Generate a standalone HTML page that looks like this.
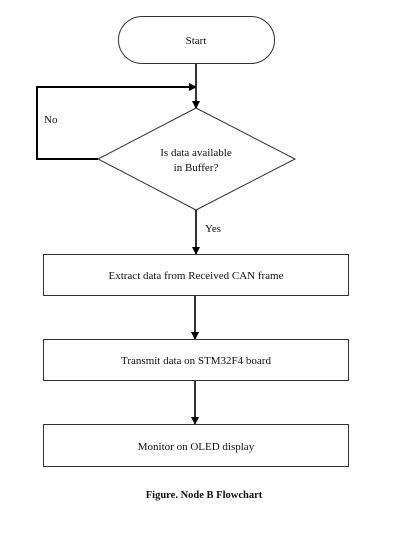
<!DOCTYPE html>
<html><head><style>
html,body{margin:0;padding:0;background:#fff;}
svg{display:block;}
text{font-family:"Liberation Serif",serif;font-size:11px;fill:#111;}
</style></head><body>
<svg width="413" height="545" viewBox="0 0 413 545">
<defs>
<marker id="a" markerWidth="8" markerHeight="8" refX="7" refY="4" orient="auto" markerUnits="userSpaceOnUse">
<path d="M0,0 L8,4 L0,8 z" fill="#000"/></marker>
</defs>
<rect x="118.5" y="16.5" width="156" height="47" rx="23.5" fill="#fff" stroke="#333" stroke-width="1"/>
<text x="196" y="44" text-anchor="middle">Start</text>
<line x1="196" y1="64" x2="196" y2="108" stroke="#000" stroke-width="1.6" marker-end="url(#a)"/>
<polyline points="98,159 37,159 37,87 196,87" fill="none" stroke="#000" stroke-width="2" marker-end="url(#a)"/>
<polygon points="196,108 295,159 196,210 98,159" fill="#fff" stroke="#333" stroke-width="1"/>
<text x="196" y="156" text-anchor="middle">Is data available</text>
<text x="196" y="171" text-anchor="middle">in Buffer?</text>
<text x="44" y="123">No</text>
<text x="205" y="232">Yes</text>
<line x1="196" y1="210" x2="196" y2="254" stroke="#000" stroke-width="1.6" marker-end="url(#a)"/>
<rect x="43.5" y="254.5" width="305" height="41" fill="#fff" stroke="#333"/>
<text x="196" y="279" text-anchor="middle">Extract data from Received CAN frame</text>
<line x1="195" y1="296" x2="195" y2="339" stroke="#000" stroke-width="1.6" marker-end="url(#a)"/>
<rect x="43.5" y="339.5" width="305" height="41" fill="#fff" stroke="#333"/>
<text x="196" y="364" text-anchor="middle">Transmit data on  STM32F4 board</text>
<line x1="195" y1="381" x2="195" y2="424" stroke="#000" stroke-width="1.6" marker-end="url(#a)"/>
<rect x="43.5" y="424.5" width="305" height="42" fill="#fff" stroke="#333"/>
<text x="196" y="450" text-anchor="middle">Monitor on OLED display</text>
<text x="204" y="498" text-anchor="middle" style="font-weight:bold;font-size:10.5px">Figure. Node B Flowchart</text>
</svg>
</body></html>
